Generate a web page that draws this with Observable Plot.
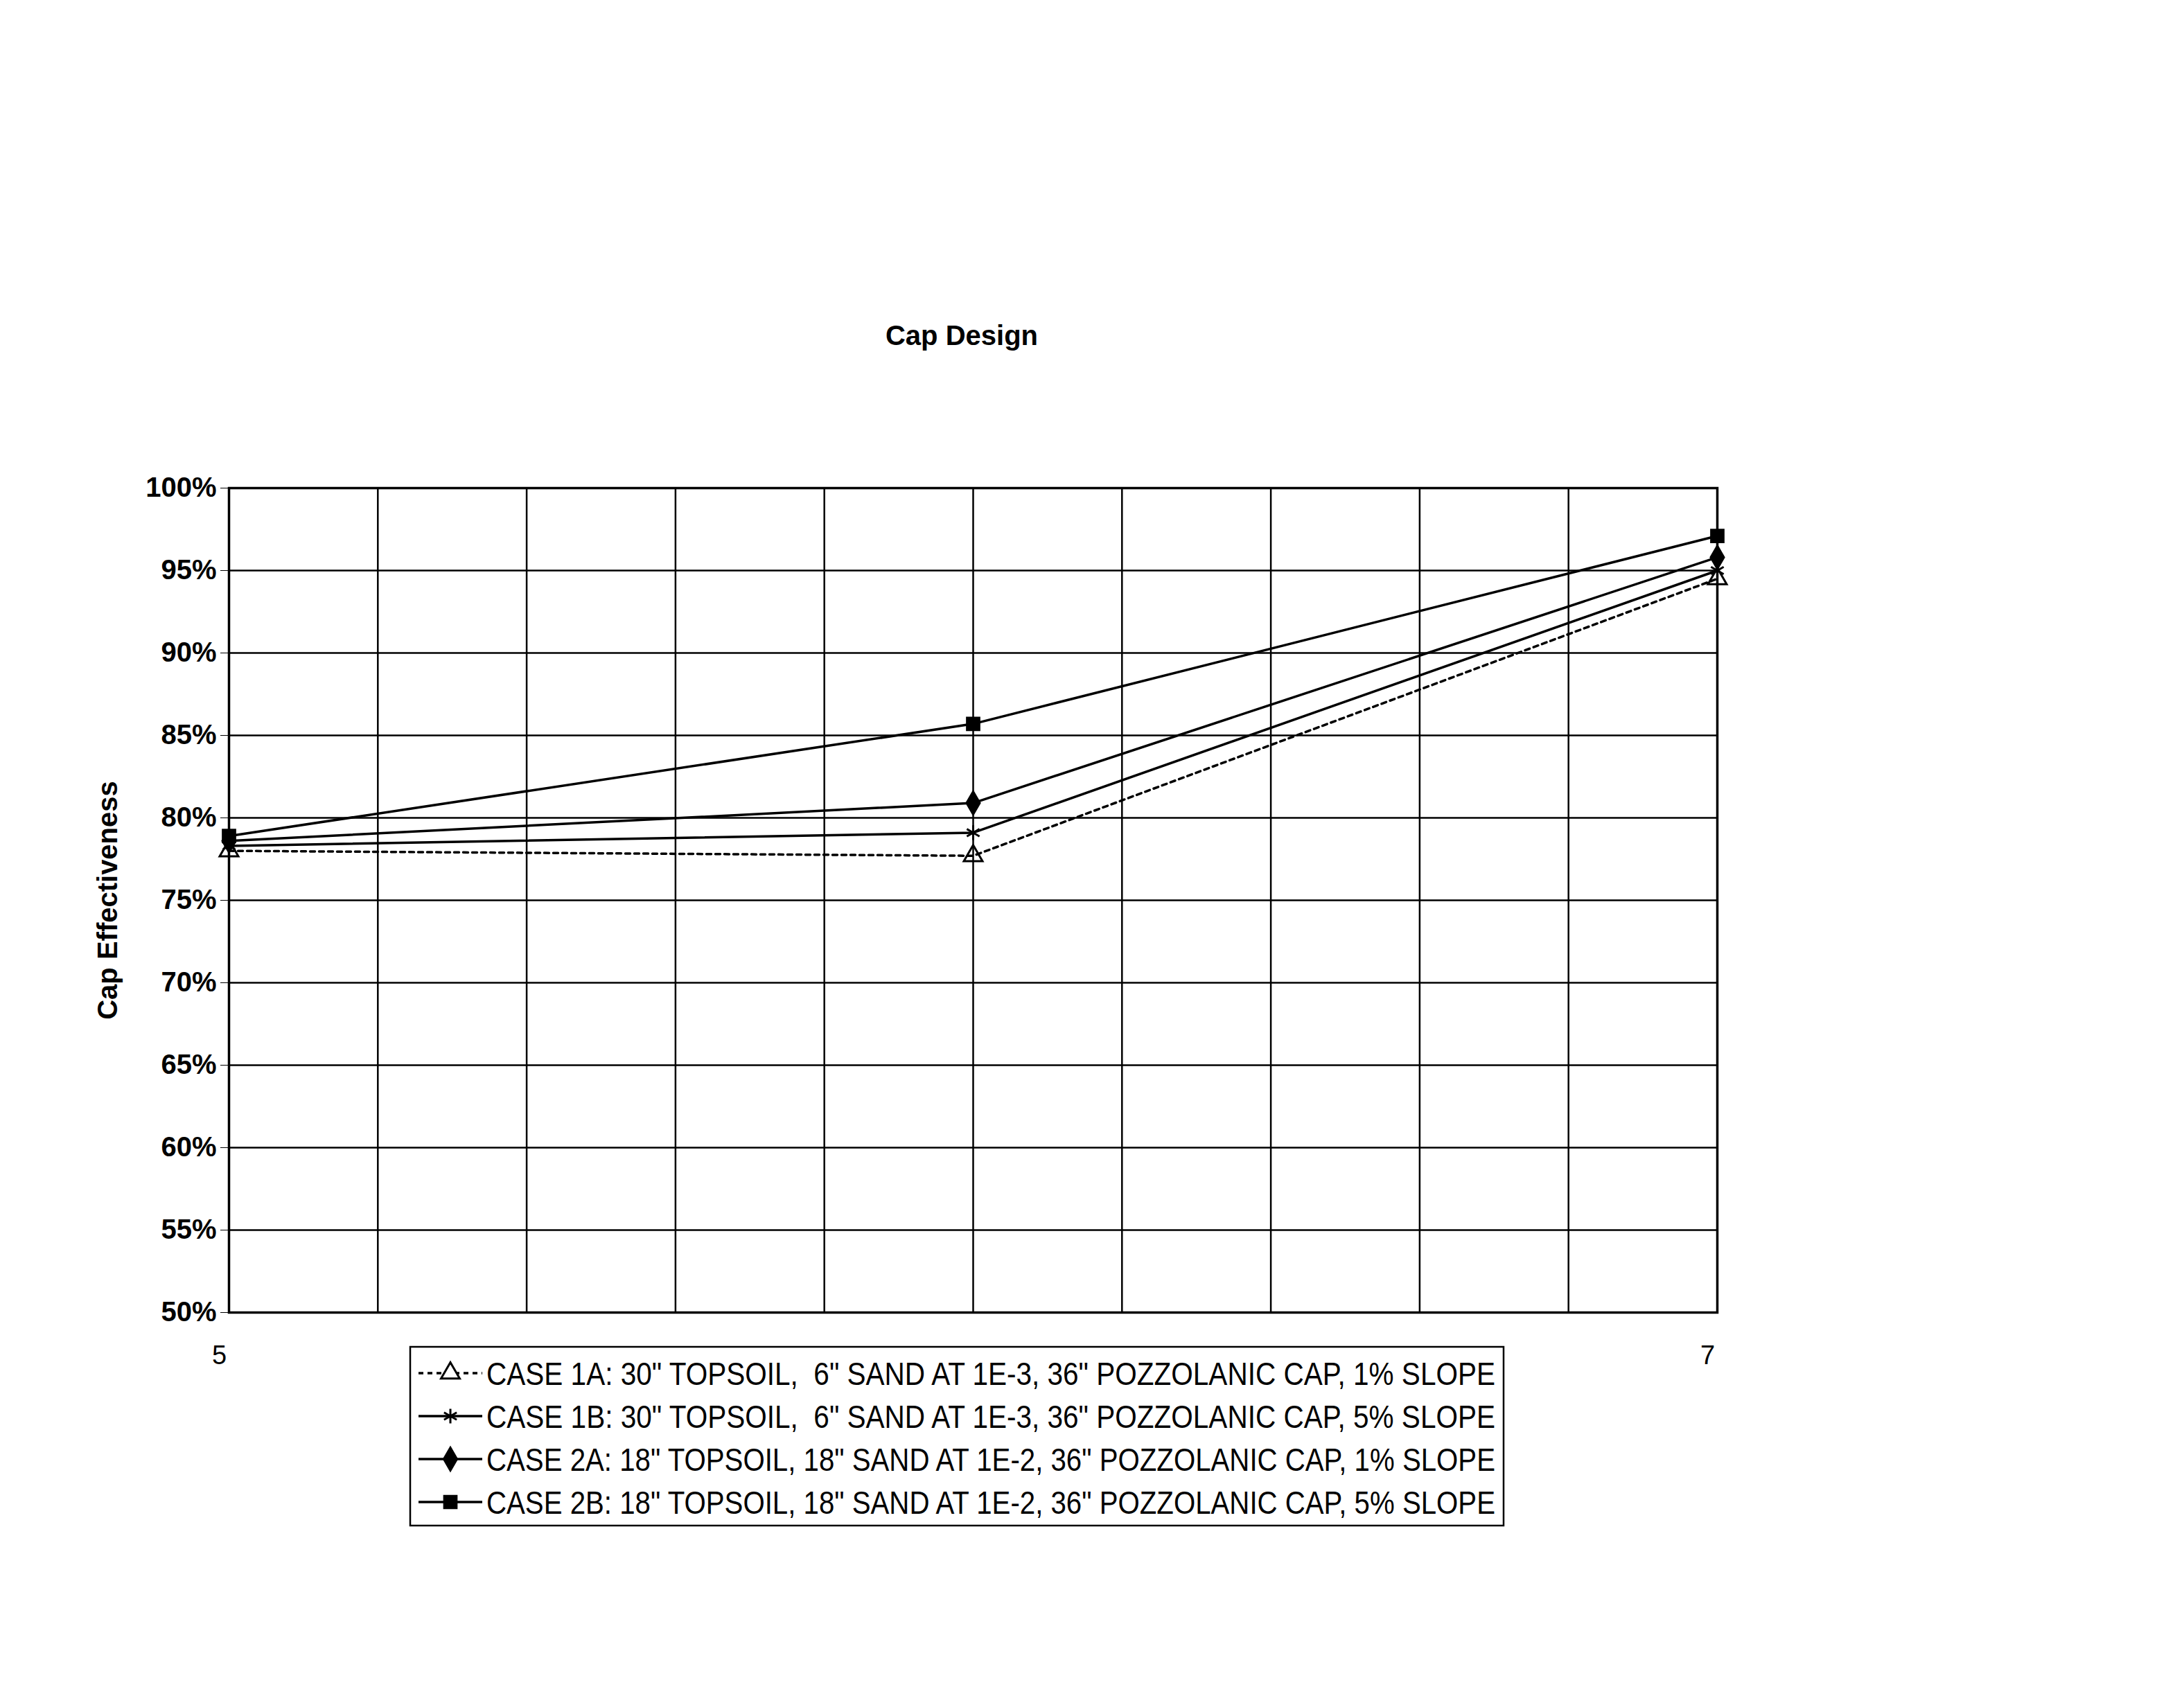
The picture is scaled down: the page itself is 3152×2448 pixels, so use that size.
<!DOCTYPE html>
<html><head><meta charset="utf-8">
<script src="https://cdn.jsdelivr.net/npm/d3@7"></script>
<script src="https://cdn.jsdelivr.net/npm/@observablehq/plot@0.6"></script>
<style>
body{margin:0;background:#fff;width:3152px;height:2448px;position:relative;overflow:hidden;font-family:"Liberation Sans",Arial,sans-serif;color:#000;}
#title{position:absolute;left:0;width:2776px;top:462px;text-align:center;font-weight:bold;font-size:40px;}
#chart{position:absolute;left:0;top:640px;}
#legend{position:absolute;left:590px;top:1942px;}
</style></head><body>
<div id="title">Cap Design</div>
<div id="chart"></div>
<div id="legend"></div>
<script>
// ---- data ----
const xValues = [5, 6, 7];
const seriesNames = [
  "CASE 1A: 30\" TOPSOIL,  6\" SAND AT 1E-3, 36\" POZZOLANIC CAP, 1% SLOPE",
  "CASE 1B: 30\" TOPSOIL,  6\" SAND AT 1E-3, 36\" POZZOLANIC CAP, 5% SLOPE",
  "CASE 2A: 18\" TOPSOIL, 18\" SAND AT 1E-2, 36\" POZZOLANIC CAP, 1% SLOPE",
  "CASE 2B: 18\" TOPSOIL, 18\" SAND AT 1E-2, 36\" POZZOLANIC CAP, 5% SLOPE"
];
const case1A = [0.780, 0.777, 0.945];
const case1B = [0.783, 0.791, 0.950];
const case2A = [0.786, 0.809, 0.958];
const case2B = [0.789, 0.857, 0.971];
const yTicks = [0.50, 0.55, 0.60, 0.65, 0.70, 0.75, 0.80, 0.85, 0.90, 0.95, 1.00];
const xTicks = [5, 7];
const xGrid = [5.2, 5.4, 5.6, 5.8, 6.0, 6.2, 6.4, 6.6, 6.8];

// ---- styling per series ----
const seriesValues = [case1A, case1B, case2A, case2B];
const styles = [
  {symbol: "triangle", dash: "7,6", filled: false},
  {symbol: "asterisk", dash: null, filled: false},
  {symbol: "diamond", dash: null, filled: true},
  {symbol: "square", dash: null, filled: true}
];

const marks = [
  Plot.gridX(xGrid, {stroke: "#000", strokeOpacity: 1, strokeWidth: 2.5}),
  Plot.gridY(yTicks, {stroke: "#000", strokeOpacity: 1, strokeWidth: 2.5}),
  Plot.frame({stroke: "#000", strokeWidth: 3.5})
];
seriesValues.forEach((vals, i) => {
  const rows = xValues.map((x, j) => ({x, y: vals[j], series: seriesNames[i]}));
  const st = styles[i];
  marks.push(Plot.line(rows, {x: "x", y: "y", stroke: "#000", strokeWidth: 3.5, strokeDasharray: st.dash}));
  marks.push(Plot.dot(rows, {x: "x", y: "y", symbol: () => st.symbol, r: 10,
    fill: st.filled ? "#000" : "none", stroke: "#000", strokeWidth: 3}));
});
marks.push(Plot.axisY(yTicks, {tickFormat: d => Math.round(d * 100) + "%", tickSize: 12, tickPadding: 6,
  fontSize: 40, fontWeight: "bold", label: "Cap Effectiveness", labelAnchor: "center", labelArrow: "none", labelOffset: 190}));
marks.push(Plot.axisX(xTicks, {tickFormat: d => String(d), tickSize: 0, tickPadding: 48, dx: -14,
  fontSize: 38, label: null}));

const chart = Plot.plot({
  width: 2600, height: 1334,
  marginLeft: 330, marginRight: 122, marginTop: 64, marginBottom: 80,
  x: {domain: [5, 7]},
  y: {domain: [0.5, 1.0]},
  style: {fontSize: "36px", fontFamily: "Liberation Sans, Arial, sans-serif", color: "#000", background: "#fff", overflow: "visible"},
  marks
});
document.getElementById("chart").appendChild(chart);

// ---- legend ----
const lw = 1582, lh = 262;
const svg = d3.select("#legend").append("svg").attr("width", 2400).attr("height", lh);
svg.append("rect").attr("x", 2).attr("y", 2).attr("width", lw - 4).attr("height", lh - 4)
  .attr("fill", "#fff").attr("stroke", "#000").attr("stroke-width", 2.5);
const symMap = {triangle: d3.symbolTriangle, asterisk: d3.symbolAsterisk, diamond: d3.symbolDiamond, square: d3.symbolSquare};
seriesNames.forEach((name, i) => {
  const cy = 40 + i * 62;
  const st = styles[i];
  const g = svg.append("g");
  g.append("line").attr("x1", 14).attr("x2", 106).attr("y1", cy).attr("y2", cy)
    .attr("stroke", "#000").attr("stroke-width", 3.5).attr("stroke-dasharray", st.dash);
  g.append("path").attr("transform", `translate(60,${cy})`)
    .attr("d", d3.symbol(symMap[st.symbol], 10 * 10 * Math.PI)())
    .attr("fill", st.filled ? "#000" : "#fff").attr("stroke", "#000").attr("stroke-width", 3);
  g.append("text").attr("x", 112).attr("y", cy).attr("dy", "0.36em")
    .attr("font-size", 46).attr("font-family", "Liberation Sans, Arial, sans-serif")
    .attr("textLength", 1456).attr("lengthAdjust", "spacingAndGlyphs")
    .attr("xml:space", "preserve").style("white-space", "pre")
    .text(name);
});
</script>
</body></html>
